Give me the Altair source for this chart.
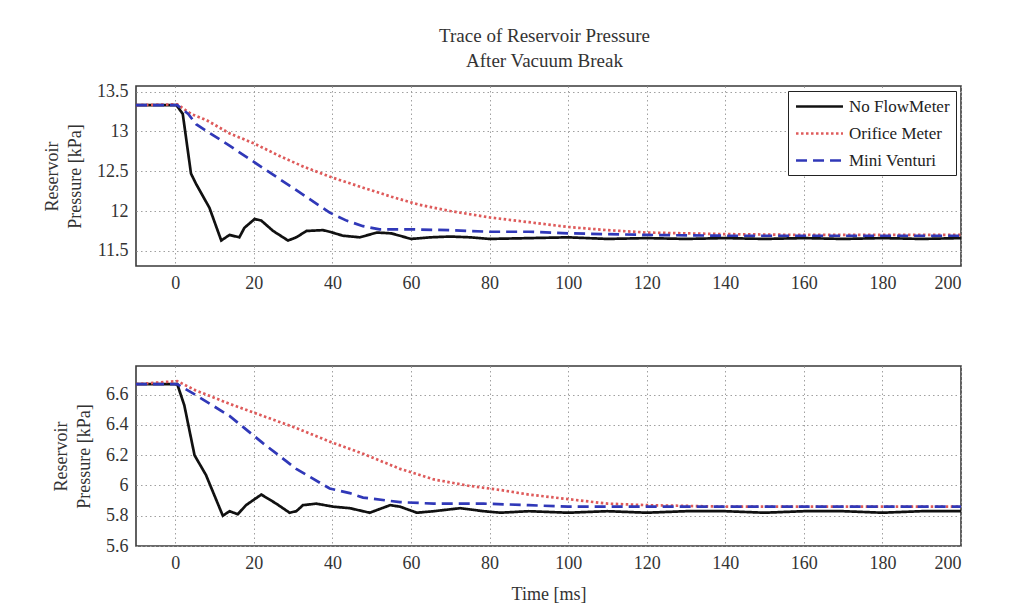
import altair as alt
import pandas as pd

SERIES = ["No FlowMeter", "Orifice Meter", "Mini Venturi"]
COLORS = ["#111111", "#de5a5a", "#3038b8"]
DASHES = [[1, 0], [2.5, 2.5], [11, 6]]

X_TICKS = [0, 20, 40, 60, 80, 100, 120, 140, 160, 180, 200]
TOP_Y_TICKS = [11.5, 12, 12.5, 13, 13.5]
BOT_Y_TICKS = [5.6, 5.8, 6, 6.2, 6.4, 6.6]

# ---- top panel (13.3 kPa start) ----
top_nf_t = [-10, 0.3, 1.9, 4, 5.3, 8.7, 11.7, 13.8, 16.3, 17.6, 20.2, 21.9, 24.9, 28.7, 30.8,
            33.4, 37.6, 39.3, 42.7, 47, 51.3, 55, 60, 65, 70, 75, 80, 90, 100, 110, 120,
            130, 140, 150, 160, 170, 180, 190, 200]
top_nf_v = [13.33, 13.33, 13.22, 12.47, 12.34, 12.04, 11.63, 11.70, 11.67, 11.79, 11.90, 11.88,
            11.75, 11.63, 11.67, 11.75, 11.76, 11.74, 11.69, 11.67, 11.73, 11.72, 11.65, 11.67,
            11.68, 11.67, 11.65, 11.66, 11.67, 11.65, 11.66, 11.65, 11.66, 11.65, 11.66, 11.65,
            11.66, 11.65, 11.66]

top_or_t = [-10, 0.5, 4, 8, 14, 20, 27, 33, 40, 48, 55, 62, 70, 80, 90, 100, 110, 120, 140,
            160, 180, 200]
top_or_v = [13.33, 13.34, 13.22, 13.14, 12.97, 12.85, 12.68, 12.55, 12.42, 12.29, 12.18, 12.08,
            12.00, 11.92, 11.86, 11.80, 11.76, 11.73, 11.71, 11.70, 11.70, 11.70]

top_mv_t = [-10, 0.5, 3.3, 5.3, 13.8, 20.2, 26.6, 33, 39.3, 43.6, 47.8, 52, 60, 70, 80, 90,
            100, 120, 140, 160, 180, 200]
top_mv_v = [13.33, 13.33, 13.22, 13.09, 12.82, 12.61, 12.40, 12.19, 11.98, 11.88, 11.81, 11.77,
            11.77, 11.76, 11.74, 11.74, 11.72, 11.70, 11.69, 11.69, 11.69, 11.69]

# ---- bottom panel (6.67 kPa start) ----
bot_nf_t = [-10, 0.5, 2.3, 4.9, 7.8, 12.1, 13.8, 15.9, 18, 21.9, 25.7, 29.1, 30.8, 32.5, 35.9,
            40.2, 44.4, 49.5, 54.7, 57.2, 61.5, 65.8, 72.5, 78.5, 82.8, 90, 100, 110, 120,
            130, 140, 150, 160, 170, 180, 190, 200]
bot_nf_v = [6.67, 6.67, 6.53, 6.20, 6.07, 5.80, 5.83, 5.81, 5.87, 5.94, 5.88, 5.82, 5.83, 5.87,
            5.88, 5.86, 5.85, 5.82, 5.87, 5.86, 5.82, 5.83, 5.85, 5.83, 5.82, 5.83, 5.82, 5.83,
            5.82, 5.83, 5.83, 5.82, 5.83, 5.83, 5.82, 5.83, 5.83]

bot_or_t = [-10, 0.5, 5.1, 13.8, 22.3, 30.8, 39.3, 47.8, 57.2, 65.8, 74.3, 82.8, 90, 100, 110,
            120, 140, 160, 180, 200]
bot_or_v = [6.67, 6.69, 6.63, 6.54, 6.46, 6.38, 6.29, 6.21, 6.11, 6.04, 6.00, 5.97, 5.94, 5.91,
            5.88, 5.87, 5.86, 5.86, 5.86, 5.86]

bot_mv_t = [-10, 0.5, 5.1, 13.8, 22.3, 30.8, 39.3, 44.4, 47.8, 57.2, 65.8, 78.5, 90, 100, 120,
            140, 160, 180, 200]
bot_mv_v = [6.67, 6.67, 6.60, 6.46, 6.28, 6.11, 5.98, 5.95, 5.92, 5.89, 5.88, 5.88, 5.87, 5.86,
            5.86, 5.86, 5.86, 5.86, 5.86]


def frame(groups):
    rows = []
    for order, (name, ts, vs) in enumerate(groups):
        for i, (t, v) in enumerate(zip(ts, vs)):
            rows.append({"series": name, "t": t, "p": v, "k": order, "i": i})
    return pd.DataFrame(rows)


top_df = frame([(SERIES[0], top_nf_t, top_nf_v),
                (SERIES[1], top_or_t, top_or_v),
                (SERIES[2], top_mv_t, top_mv_v)])
bot_df = frame([(SERIES[0], bot_nf_t, bot_nf_v),
                (SERIES[1], bot_or_t, bot_or_v),
                (SERIES[2], bot_mv_t, bot_mv_v)])

FONT = "Liberation Serif"
TXT = "#333333"

color_scale = alt.Scale(domain=SERIES, range=COLORS)
dash_scale = alt.Scale(domain=SERIES, range=DASHES)

legend = alt.Legend(
    title=None, orient="top-right", offset=5,
    symbolType="M-3,0L3,0", symbolSize=245, symbolStrokeWidth=2.6, symbolOffset=16,
    labelFont=FONT, labelFontSize=17, labelColor="#222",
    fillColor="white", strokeColor="#222", padding=6, rowPadding=9,
    labelOffset=20,
)


def panel(df, domain, yticks, show_xtitle, title=None):
    x_axis = alt.Axis(values=X_TICKS, title="Time [ms]" if show_xtitle else None,
                      ticks=False, domain=False, labelPadding=8,
                      gridDash=[1.5, 3], gridColor="#a0a0a0", gridWidth=1,
                      titlePadding=13)
    y_axis = alt.Axis(values=yticks, format="~g", title=["Reservoir", "Pressure [kPa]"],
                      ticks=False, domain=False, labelPadding=8, titlePadding=12,
                      titleLineHeight=23,
                      gridDash=[1.5, 3], gridColor="#a0a0a0", gridWidth=1)
    ch = alt.Chart(df).mark_line(strokeWidth=2.7).encode(
        x=alt.X("t:Q", scale=alt.Scale(domain=[-10, 200], nice=False, zero=False), axis=x_axis),
        y=alt.Y("p:Q", scale=alt.Scale(domain=domain, nice=False, zero=False), axis=y_axis),
        color=alt.Color("series:N", scale=color_scale, legend=legend, sort=SERIES),
        strokeDash=alt.StrokeDash("series:N", scale=dash_scale, legend=legend, sort=SERIES),
        detail="k:O",
        order="i:Q",
    )
    props = dict(width=825, height=180)
    if title is not None:
        props["title"] = title
    return ch.properties(**props)


title = alt.TitleParams(
    text=["Trace of Reservoir Pressure", "After Vacuum Break"],
    anchor="middle", frame="group", font=FONT, fontSize=19, fontWeight="normal",
    color=TXT, lineHeight=25, offset=12, dx=-4,
)

top = panel(top_df, [11.31, 13.57], TOP_Y_TICKS, False, title)
bot = panel(bot_df, [5.6, 6.79], BOT_Y_TICKS, True)

chart = alt.vconcat(top, bot, spacing=100, bounds="flush").properties(
    padding={"left": 34, "top": 17, "right": 5, "bottom": 5},
    background="white",
).configure_view(
    stroke="#3a3a3a", strokeWidth=1.6
).configure_axis(
    labelFont=FONT, labelFontSize=18, labelColor=TXT,
    titleFont=FONT, titleFontSize=18, titleColor=TXT, titleFontWeight="normal",
)

chart.save("out.html", embed_options={"renderer": "svg", "actions": False})
